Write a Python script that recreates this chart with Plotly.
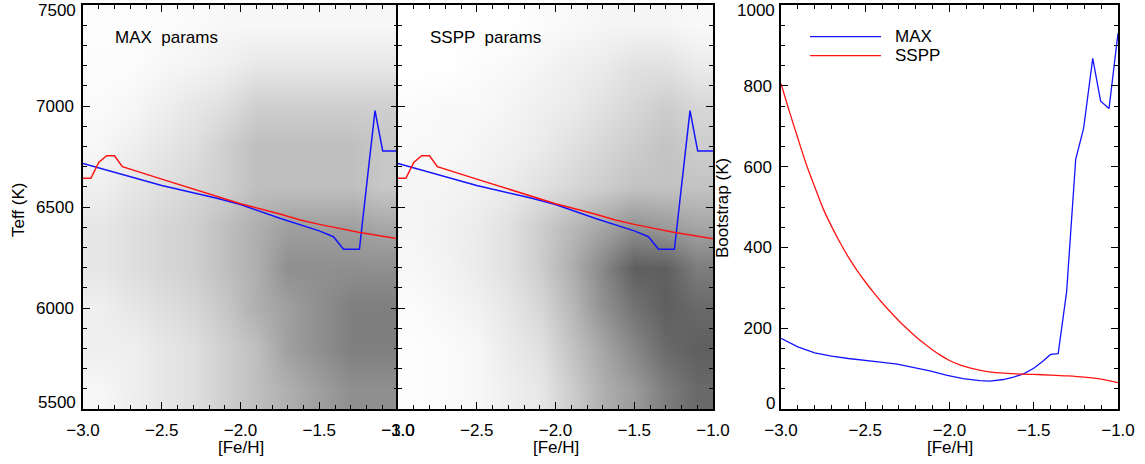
import plotly.graph_objects as go

# ---------------- data ----------------
# density grid of the scatter clouds
feh_centers = [-2.9, -2.7, -2.5, -2.3, -2.1, -1.9, -1.7, -1.5, -1.3, -1.1]
teff_centers = [5600, 5800, 6000, 6200, 6400, 6600, 6800, 7000, 7200, 7400]

max_density = [
    [0.5, 1.0, 1.5, 2.0, 3.0, 4.0, 5.0, 6.0, 7.0, 7.0],   # 5600
    [1.0, 1.0, 1.5, 2.0, 3.0, 4.0, 6.0, 7.0, 8.0, 8.0],   # 5800
    [1.0, 1.5, 2.0, 2.5, 3.5, 5.0, 6.0, 7.0, 8.0, 8.0],   # 6000
    [1.5, 2.0, 2.5, 3.0, 4.0, 5.0, 7.0, 7.0, 7.0, 7.0],   # 6200
    [1.5, 2.0, 2.5, 3.0, 4.0, 5.0, 6.0, 6.0, 6.0, 5.5],   # 6400
    [1.0, 1.5, 2.0, 2.5, 3.0, 4.0, 4.0, 4.0, 4.0, 3.5],   # 6600
    [0.5, 1.0, 1.5, 2.0, 3.0, 4.0, 4.0, 4.0, 4.0, 3.5],   # 6800
    [0.3, 0.5, 1.0, 1.5, 2.0, 3.0, 3.0, 3.0, 3.0, 3.0],   # 7000
    [0.2, 0.2, 0.5, 0.7, 1.0, 1.5, 1.5, 1.5, 1.5, 1.5],   # 7200
    [0.1, 0.1, 0.2, 0.3, 0.5, 0.5, 0.5, 0.5, 0.5, 0.5],   # 7400
]

sspp_density = [
    [0.1, 0.2, 0.4, 0.8, 1.2, 2.5, 4.0, 5.0, 6.5, 7.5],   # 5600
    [0.1, 0.2, 0.4, 1.0, 1.5, 3.0, 4.5, 6.0, 7.5, 8.0],   # 5800
    [0.2, 0.4, 0.7, 1.2, 2.0, 3.5, 5.5, 7.0, 8.0, 7.5],   # 6000
    [0.4, 0.6, 1.0, 1.5, 2.5, 4.0, 6.0, 8.0, 8.0, 6.5],   # 6200
    [0.5, 0.7, 1.0, 1.5, 2.5, 3.5, 4.5, 5.5, 5.0, 4.5],   # 6400
    [0.5, 0.5, 0.7, 1.0, 1.5, 2.0, 2.5, 3.0, 3.0, 3.0],   # 6600
    [0.3, 0.3, 0.5, 0.7, 1.0, 1.5, 2.0, 2.5, 3.0, 2.5],   # 6800
    [0.2, 0.3, 0.3, 0.5, 0.8, 1.0, 1.5, 2.0, 2.5, 2.0],   # 7000
    [0.0, 0.0, 0.2, 0.3, 0.5, 0.8, 1.0, 1.5, 1.5, 1.0],   # 7200
    [0.0, 0.0, 0.0, 0.0, 0.2, 0.3, 0.5, 0.5, 0.5, 0.3],   # 7400
]

# SSPP fit line (red) in Teff panels
sspp_fit_feh = [-3.0, -2.95, -2.9, -2.85, -2.8, -2.75, -2.5, -2.25, -2.15, -2.0,
                -1.75, -1.62, -1.5, -1.25, -1.0]
sspp_fit_teff = [6642, 6642, 6721, 6754, 6754, 6700, 6638, 6576, 6551, 6516,
                 6465, 6436, 6414, 6375, 6343]

# MAX fit line (blue) in Teff panels
max_fit_feh = [-3.0, -2.5, -2.15, -2.0, -1.75, -1.5, -1.41, -1.346, -1.245,
               -1.146, -1.097, -1.0]
max_fit_teff = [6716, 6606, 6543, 6512, 6444, 6382, 6353, 6291, 6291,
                6977, 6777, 6777]

# bootstrap panel
boot_max_feh = [-3.0, -2.9, -2.8, -2.7, -2.6, -2.5, -2.41, -2.31, -2.21, -2.11,
                -2.02, -1.92, -1.82, -1.76, -1.68, -1.62, -1.56, -1.50, -1.45,
                -1.40, -1.355, -1.305, -1.251, -1.204, -1.15, -1.103, -1.053, -1.0]
boot_max = [175, 154, 139, 131, 125, 121, 116, 111, 103, 94,
            84, 75, 70, 69, 73, 79, 87, 101, 117,
            135, 137, 290, 618, 695, 868, 762, 744, 930]

boot_sspp_feh = [-3.0, -2.95, -2.9, -2.85, -2.8, -2.75, -2.7, -2.65, -2.6, -2.55,
                 -2.5, -2.45, -2.4, -2.35, -2.3, -2.25, -2.2, -2.15, -2.1, -2.05,
                 -2.0, -1.95, -1.9, -1.85, -1.8, -1.75, -1.7, -1.6, -1.5, -1.4,
                 -1.3, -1.2, -1.1, -1.0]
boot_sspp = [806, 736, 670, 606, 550, 496, 452, 412, 376, 344,
             315, 288, 263, 240, 218, 198, 179, 162, 146, 132,
             120, 111, 104, 98.5, 94.5, 91.5, 89.5, 87, 85.5, 84,
             82, 79, 74, 65]

x_ticks = [-3.0, -2.5, -2.0, -1.5, -1.0]
teff_ticks = [5500, 6000, 6500, 7000, 7500]
teff_labels = ["", "6000", "6500", "7000", ""]
boot_ticks = [0, 200, 400, 600, 800, 1000]
boot_labels = ["", "200", "400", "600", "800", ""]

# ---------------- figure ----------------
W, H = 1145, 464
FONT = "Liberation Sans"
FS = 17
BLUE = "rgb(20,20,255)"
RED = "rgb(255,20,20)"

def px(x):
    return x / W

def py(y):
    return (H - y) / H

fig = go.Figure()

fig.add_trace(go.Heatmap(x=feh_centers, y=teff_centers, z=max_density,
                         colorscale=[[0, "rgb(255,255,255)"], [1, "rgb(95,95,95)"]],
                         zmin=0, zmax=10, zsmooth="best", showscale=False,
                         hoverinfo="skip", xaxis="x", yaxis="y"))
fig.add_trace(go.Heatmap(x=feh_centers, y=teff_centers, z=sspp_density,
                         colorscale=[[0, "rgb(255,255,255)"], [1, "rgb(55,55,55)"]],
                         zmin=0, zmax=10, zsmooth="best", showscale=False,
                         hoverinfo="skip", xaxis="x2", yaxis="y2"))

for xa, ya in (("x", "y"), ("x2", "y2")):
    fig.add_trace(go.Scatter(x=max_fit_feh, y=max_fit_teff, mode="lines",
                             line=dict(color=BLUE, width=1.5), showlegend=False,
                             xaxis=xa, yaxis=ya))
    fig.add_trace(go.Scatter(x=sspp_fit_feh, y=sspp_fit_teff, mode="lines",
                             line=dict(color=RED, width=1.5), showlegend=False,
                             xaxis=xa, yaxis=ya))

fig.add_trace(go.Scatter(x=boot_max_feh, y=boot_max, mode="lines",
                         line=dict(color=BLUE, width=1.3), showlegend=False,
                         xaxis="x3", yaxis="y3"))
fig.add_trace(go.Scatter(x=boot_sspp_feh, y=boot_sspp, mode="lines",
                         line=dict(color=RED, width=1.3, shape="spline", smoothing=0.8),
                         showlegend=False, xaxis="x3", yaxis="y3"))

tickfont = dict(family=FONT, size=FS, color="black")

def xaxis(domain, anchor):
    return dict(domain=domain, anchor=anchor, range=[-3.0, -1.0], automargin=False,
                tickmode="array", tickvals=x_ticks, tickformat=".1f",
                showline=True, linecolor="black", linewidth=1.5, mirror="allticks",
                ticks="inside", ticklen=7, tickwidth=1.2, tickcolor="black",
                showgrid=False, zeroline=False, tickfont=tickfont,
                ticklabelstandoff=5,
                minor=dict(ticks="inside", ticklen=4, tickwidth=1, tickcolor="black",
                           tick0=-3.0, dtick=0.1, showgrid=False))

def yaxis(domain, anchor, rng, vals, text, minor, labels):
    return dict(domain=domain, anchor=anchor, range=rng, automargin=False,
                tickmode="array", tickvals=vals, ticktext=text,
                showticklabels=labels,
                showline=True, linecolor="black", linewidth=1.5, mirror="allticks",
                ticks="inside", ticklen=7, tickwidth=1.2, tickcolor="black",
                showgrid=False, zeroline=False, tickfont=tickfont,
                ticklabelstandoff=4,
                minor=dict(ticks="inside", ticklen=4, tickwidth=1, tickcolor="black",
                           tick0=rng[0], dtick=minor, showgrid=False))

ydom = [py(409), py(5)]
fig.update_layout(
    width=W, height=H, margin=dict(l=0, r=0, t=0, b=0, autoexpand=False),
    paper_bgcolor="white", plot_bgcolor="white", showlegend=False,
    xaxis=xaxis([px(83), px(398)], "y"),
    xaxis2=xaxis([px(398), px(713)], "y2"),
    xaxis3=xaxis([px(781), px(1118)], "y3"),
    yaxis=yaxis(ydom, "x", [5500, 7500], teff_ticks, teff_labels, 100, True),
    yaxis2=yaxis(ydom, "x2", [5500, 7500], teff_ticks, teff_labels, 100, False),
    yaxis3=yaxis(ydom, "x3", [0, 1000], boot_ticks, boot_labels, 50, True),
)

ann_font = dict(family=FONT, size=FS, color="black")
annotations = [
    dict(text="[Fe/H]", x=px(240.5), y=py(447)),
    dict(text="[Fe/H]", x=px(555.5), y=py(447)),
    dict(text="[Fe/H]", x=px(949.5), y=py(447)),
    dict(text="Teff (K)", x=px(18), y=py(210), textangle=-90),
    dict(text="Bootstrap (K)", x=px(722), y=py(208), textangle=-90),
    dict(text="MAX  params", x=px(113), y=py(37), xanchor="left"),
    dict(text="SSPP  params", x=px(428), y=py(37), xanchor="left"),
    dict(text="MAX", x=px(893), y=py(36.7), xanchor="left"),
    dict(text="SSPP", x=px(893), y=py(55.7), xanchor="left"),
    # edge tick labels, nudged inward as in the original
    dict(text=str(teff_ticks[-1]), x=px(78), y=py(11), xanchor="right"),
    dict(text=str(teff_ticks[0]), x=px(78), y=py(402), xanchor="right"),
    dict(text=str(boot_ticks[-1]), x=px(777), y=py(11), xanchor="right"),
    dict(text=str(boot_ticks[0]), x=px(777), y=py(403), xanchor="right"),
]
for a in annotations:
    a.setdefault("xanchor", "center")
    fig.add_annotation(xref="paper", yref="paper", showarrow=False,
                       yanchor="middle", font=ann_font, **a)

# legend line samples
fig.add_shape(type="line", xref="paper", yref="paper", x0=px(810), x1=px(881),
              y0=py(36.7), y1=py(36.7), line=dict(color=BLUE, width=1.3))
fig.add_shape(type="line", xref="paper", yref="paper", x0=px(810), x1=px(881),
              y0=py(55.7), y1=py(55.7), line=dict(color=RED, width=1.3))

fig.write_html("out.html")
